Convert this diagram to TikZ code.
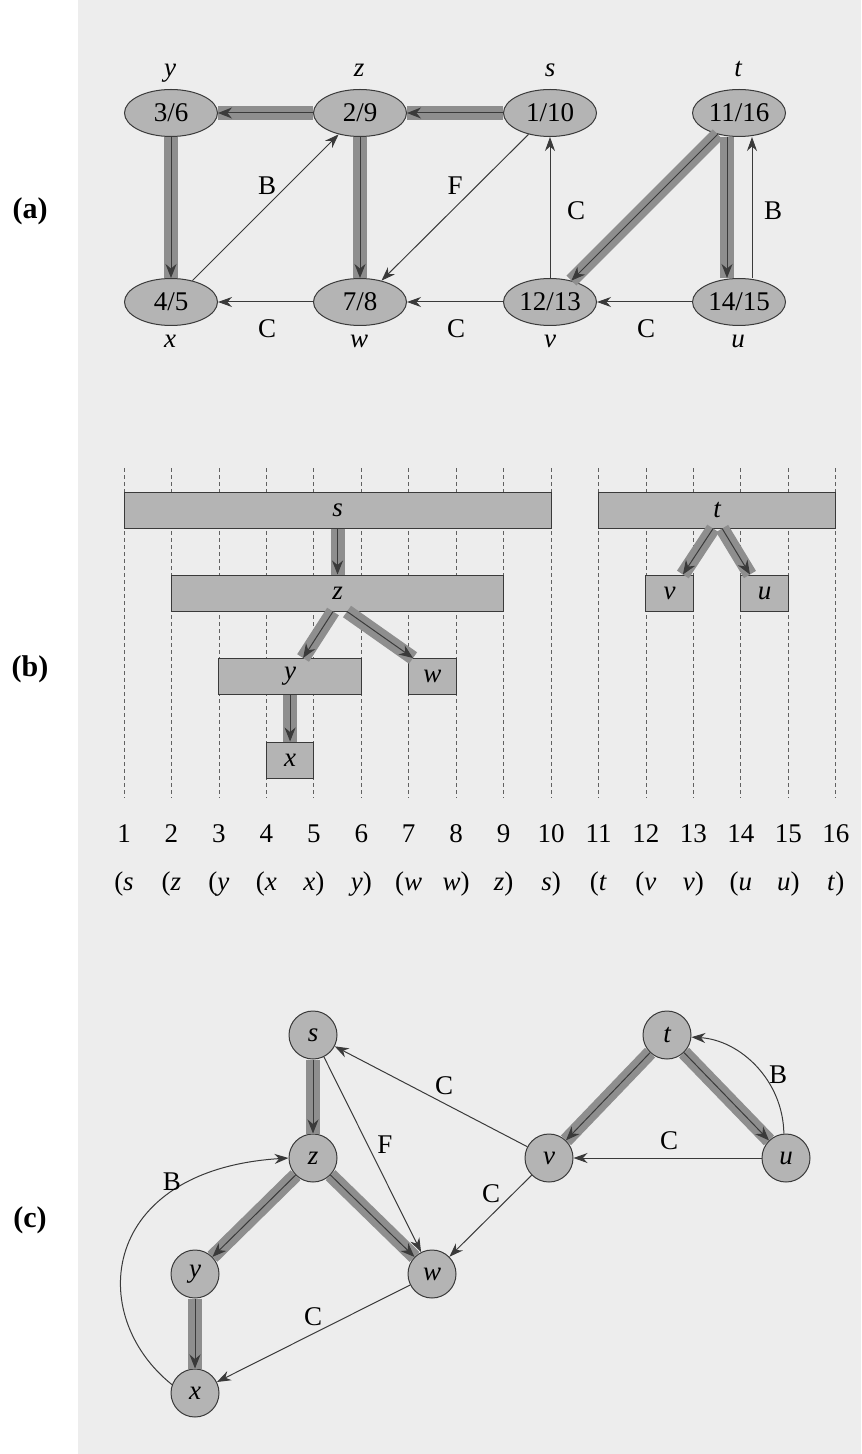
\documentclass[tikz,border=0pt]{standalone}
\usepackage{fontspec}
\setmainfont{Liberation Serif}
\usetikzlibrary{arrows.meta, positioning, shapes.geometric}
\definecolor{cpaper}{HTML}{EDEDED}
\definecolor{cfill}{HTML}{B4B4B4}
\definecolor{cband}{HTML}{8E8E8E}
\definecolor{cink}{HTML}{3A3A3A}
\newcommand{\txt}{\fontsize{13.5}{16}\selectfont}
\tikzset{
  every picture/.style={line width=0.5pt, font=\txt},
  vtx/.style={ellipse, draw=cink, fill=cfill, minimum width=46.5pt, minimum height=23.5pt, inner sep=0pt},
  vcirc/.style={circle, draw=cink, fill=cfill, minimum size=24pt, inner sep=0pt, font=\txt\itshape},
  bar/.style={draw=cink, fill=cfill, minimum height=18pt, inner sep=0pt, font=\txt\itshape},
  treeedge/.style={-{Stealth[length=7pt, width=5.5pt]}, draw=cink, line width=0.5pt, preaction={draw=cband, line width=7pt, arrows=-}},
  otheredge/.style={-{Stealth[length=7pt, width=5pt]}, draw=cink, line width=0.5pt},
  vname/.style={font=\txt\itshape, anchor=base},
  elabel/.style={font=\txt},
  tag/.style={font=\fontsize{15}{18}\selectfont\bfseries},
  timeline/.style={draw=cink!80, line width=0.4pt, dash pattern=on 2pt off 1.5pt},
}

\begin{document}
\begin{tikzpicture}[x=0.5pt, y=-0.5pt]
  \newcommand{\spanbar}[5]{% name, discovery, finish, y, vertex
    \node[bar, minimum width={23.725pt*(#3-#2)}] (#1) at ({124+47.45*((#2+#3)/2-1)},#4) {#5};
  }
  \useasboundingbox (0,0) rectangle (861,1454);
  \fill[cpaper] (78,0) rectangle (861,1454);

  % (a) the graph with discovery/finish times
  \node[tag] (taga) at (30,211) {(a)};
  \node[vtx] (ya) at (171,113) {3/6};
  \node[vtx] (za) at (360,113) {2/9};
  \node[vtx] (sa) at (550,113) {1/10};
  \node[vtx] (ta) at (739,113) {11/16};
  \node[vtx] (xa) at (171,302) {4/5};
  \node[vtx] (wa) at (360,302) {7/8};
  \node[vtx] (va) at (550,302) {12/13};
  \node[vtx] (ua) at (739,302) {14/15};
  \node[vname] (ya-l) at (170,77) {y};
  \node[vname] (za-l) at (359,77) {z};
  \node[vname] (sa-l) at (550,77) {s};
  \node[vname] (ta-l) at (738,77) {t};
  \node[vname] (xa-l) at (170,348) {x};
  \node[vname] (wa-l) at (359,348) {w};
  \node[vname] (va-l) at (550,348) {v};
  \node[vname] (ua-l) at (738,348) {u};

  \draw[treeedge] (za) -- (ya);
  \draw[treeedge] (sa) -- (za);
  \draw[treeedge] (ya) -- (xa);
  \draw[treeedge] (za) -- (wa);
  \draw[treeedge] (ta) -- (va);
  \draw[treeedge] ([xshift=-6pt]ta.south) -- ([xshift=-6pt]ua.north);
  \draw[otheredge] (xa) -- (za);
  \draw[otheredge] (sa) -- (wa);
  \draw[otheredge] (va) -- (sa);
  \draw[otheredge] ([xshift=6.5pt]ua.north) -- ([xshift=6.5pt]ta.south);
  \draw[otheredge] (wa) -- (xa);
  \draw[otheredge] (va) -- (wa);
  \draw[otheredge] (ua) -- (va);
  \node[elabel, anchor=base] (ea1) at (267,195) {B};
  \node[elabel, anchor=base] (ea2) at (455,195) {F};
  \node[elabel, anchor=base] (ea3) at (576,220) {C};
  \node[elabel, anchor=base] (ea4) at (773,220) {B};
  \node[elabel, anchor=base] (ea5) at (267,338) {C};
  \node[elabel, anchor=base] (ea6) at (456,338) {C};
  \node[elabel, anchor=base] (ea7) at (646,338) {C};

  % (b) parenthesis structure
  \node[tag] (tagb) at (30,669) {(b)};
  \foreach \i in {1,...,16} {
    \coordinate (top\i) at ({124+47.45*(\i-1)},468);
    \draw[timeline] (top\i) -- ++(0,330);
    \node[anchor=base] (num\i) at ({124+47.45*(\i-1)},842) {\i};
  }
  \foreach \i/\vx/\cl in {1/s/0, 2/z/0, 3/y/0, 4/x/0, 5/x/1, 6/y/1, 7/w/0, 8/w/1,
      9/z/1, 10/s/1, 11/t/0, 12/v/0, 13/v/1, 14/u/0, 15/u/1, 16/t/1}
    \node[anchor=base] (par\i) at ({124+47.45*(\i-1)},890)
      {\ifnum\cl=0 (\textit{\vx}\else\textit{\vx})\fi};

  \spanbar{sb}{1}{10}{510}{s}
  \spanbar{zb}{2}{9}{593}{z}
  \spanbar{yb}{3}{6}{676.5}{y}
  \spanbar{wb}{7}{8}{676.5}{w}
  \spanbar{xb}{4}{5}{760}{x}
  \spanbar{tb}{11}{16}{510}{t}
  \spanbar{vb}{12}{13}{593}{v}
  \spanbar{ub}{14}{15}{593}{u}
  \draw[treeedge] (sb.south) -- (zb.north);
  \draw[treeedge] ([xshift=-2.25pt]zb.south) -- ([xshift=6.5pt]yb.north);
  \draw[treeedge] ([xshift=4.75pt]zb.south) -- ([xshift=-9.7pt]wb.north);
  \draw[treeedge] (yb.south) -- (xb.north);
  \draw[treeedge] ([xshift=-2pt]tb.south) -- ([xshift=6.6pt]vb.north);
  \draw[treeedge] ([xshift=2.5pt]tb.south) -- ([xshift=-7.3pt]ub.north);

  % (c) the depth-first forest redrawn
  \node[tag] (tagc) at (30,1220) {(c)};
  \node[vcirc] (sc) at (313,1035) {s};
  \node[vcirc] (tc) at (667,1035) {t};
  \node[vcirc] (zc) at (313,1158) {z};
  \node[vcirc] (vc) at (549,1158) {v};
  \node[vcirc] (uc) at (786,1158) {u};
  \node[vcirc] (yc) at (195,1274) {y};
  \node[vcirc] (wc) at (432,1274) {w};
  \node[vcirc] (xc) at (195,1393) {x};

  \draw[treeedge] (sc) -- (zc);
  \draw[treeedge] (zc) -- (yc);
  \draw[treeedge] (zc) -- (wc);
  \draw[treeedge] (yc) -- (xc);
  \draw[treeedge] (tc) -- (vc);
  \draw[treeedge] (tc) -- (uc);
  \draw[otheredge] (sc) -- (wc);
  \draw[otheredge] (vc) -- (sc);
  \draw[otheredge] (uc) -- (vc);
  \draw[otheredge] (vc) -- (wc);
  \draw[otheredge] (wc) -- (xc);
  \draw[otheredge] (xc.160) .. controls (85,1315) and (100,1170) .. (zc.180);
  \draw[otheredge] (uc.95) .. controls (783,1080) and (740,1040) .. (tc.-5);
  \node[elabel] (ec1) at (385,1145) {F};
  \node[elabel] (ec2) at (444,1086) {C};
  \node[elabel] (ec3) at (669,1141) {C};
  \node[elabel] (ec4) at (491,1194) {C};
  \node[elabel] (ec5) at (313,1317) {C};
  \node[elabel] (ec6) at (172,1182) {B};
  \node[elabel] (ec7) at (778,1075) {B};
\end{tikzpicture}
\end{document}
